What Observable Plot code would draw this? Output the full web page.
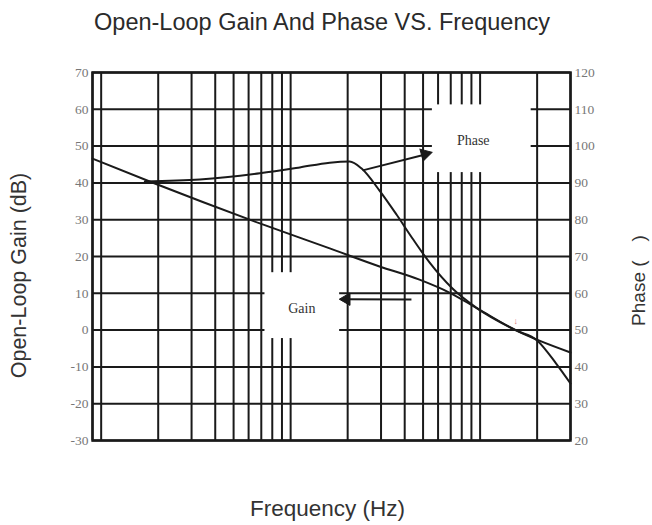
<!DOCTYPE html>
<html>
<head>
<meta charset="utf-8">
<script src="https://cdn.jsdelivr.net/npm/d3@7"></script>
<script src="https://cdn.jsdelivr.net/npm/@observablehq/plot@0.6"></script>
<style>
  html, body { margin: 0; padding: 0; background: #fff; }
  #title { width: 652px; height: 45px; line-height: 44px; text-align: center; padding-right: 8px; box-sizing: border-box;
           font-family: "Liberation Sans", Arial, sans-serif; font-size: 23.5px; color: #2a2a2a; white-space: nowrap; }
</style>
</head>
<body>
<div id="title">Open-Loop Gain And Phase VS. Frequency</div>
<div id="chart"></div>
<script>
// ---- data ----
const gainFreq = [45, 93, 344, 804, 1473, 2393, 3440, 4830, 7750, 15000];
const gainDb   = [46.6, 40.1, 29.0, 22.2, 17.3, 13.7, 10.2, 5.9, -0.1, -6.1];

const phaseFreq = [85, 166, 344, 559, 804, 1024, 1185, 1473, 1810, 2199, 2703, 3574, 4830, 7750, 10000, 12600, 15000];
const phaseDeg  = [90.4, 90.9, 92.6, 94.2, 95.5, 95.8, 93.9, 87.9, 81.4, 74.9, 68.4, 61.3, 55.9, 49.9, 47.2, 40.9, 35.5];

const gainTicks  = [-30, -20, -10, 0, 10, 20, 30, 40, 50, 60, 70];
const phaseTicks = [20, 30, 40, 50, 60, 70, 80, 90, 100, 110, 120];
const phaseOffset = 50; // phase axis = gain axis + 50

const gridDecades = [10, 100, 1000, 10000];
const gridMultiples = [1, 1.5, 2, 2.5, 3, 3.5, 4, 4.5, 5];
const freqDomain = [45, 15000];

// label boxes (white areas that break the grid), in Hz / dB
const boxes = [
  {f1: 2800, f2: 9300, d1: 42.8, d2: 61.2, label: "Phase", lf: 4600, ld: 51.5},
  {f1: 366,  f2: 907,  d1: -2.3, d2: 15.6, label: "Gain",  lf: 573,  ld: 5.9}
];
// arrows: shaft start/end and head centre
const arrows = [
  {f1: 1200, d1: 43.4, f2: 2600, d2: 47.8, hf: 2560, hd: 47.8, rot: 75},
  {f1: 2170, d1: 8.3,  f2: 960,  d2: 8.4,  hf: 985,  hd: 8.4,  rot: -90}
];
const redMark = [{f: 7700, d: 2.4}];

// ---- derived tables ----
const gain = gainFreq.map((f, i) => ({f, v: gainDb[i]}));
const phase = phaseFreq.map((f, i) => ({f, v: phaseDeg[i]}));
const gridFreqs = gridDecades.flatMap(d => gridMultiples.map(m => d * m))
  .filter(f => f >= freqDomain[0] - 1e-9 && f <= freqDomain[1] + 1e-9);

const serif = "'Liberation Serif', 'Times New Roman', serif";
const sans = "'Liberation Sans', Arial, sans-serif";
const ink = "#1a1a1a";

const chart = Plot.plot({
  width: 652,
  height: 480,
  marginTop: 27,
  marginBottom: 85,
  marginLeft: 92,
  marginRight: 82,
  x: {type: "log", domain: freqDomain, axis: null},
  y: {domain: [-30, 70], axis: null},
  style: {background: "white", fontFamily: serif},
  marks: [
    Plot.ruleX(gridFreqs, {x: d => d, stroke: ink, strokeWidth: 2}),
    Plot.ruleY(gainTicks, {y: d => d, stroke: ink, strokeWidth: 2}),
    Plot.frame({stroke: ink, strokeWidth: 2.5}),
    Plot.rect(boxes, {x1: "f1", x2: "f2", y1: "d1", y2: "d2", fill: "white"}),
    Plot.text(boxes, {x: "lf", y: "ld", text: "label", fontFamily: serif, fontSize: 14, fill: "#333"}),
    Plot.line(gain, {x: "f", y: "v", stroke: ink, strokeWidth: 2, curve: "monotone-x"}),
    Plot.line(phase, {x: "f", y: d => d.v - phaseOffset, stroke: ink, strokeWidth: 2, curve: "monotone-x"}),
    Plot.link(arrows, {x1: "f1", y1: "d1", x2: "f2", y2: "d2", stroke: ink, strokeWidth: 2}),
    Plot.dot(arrows, {x: "hf", y: "hd", symbol: "triangle", r: 4.6, fill: ink, stroke: ink, strokeWidth: 1, rotate: "rot"}),
    Plot.text(redMark, {x: "f", y: "d", text: () => "↓", fill: "#d77", fontSize: 9, fontFamily: sans}),
    // tick labels
    Plot.text(gainTicks, {y: d => d, text: d => String(d), frameAnchor: "left", dx: -4, textAnchor: "end",
      fontFamily: serif, fontSize: 13.5, fill: "#777"}),
    Plot.text(phaseTicks, {y: d => d - phaseOffset, text: d => String(d), frameAnchor: "right", dx: 4, textAnchor: "start",
      fontFamily: serif, fontSize: 13.5, fill: "#777"}),
    // axis titles
    Plot.text(["Open-Loop Gain (dB)"], {text: d => d, frameAnchor: "left", textAnchor: "middle", dx: -73, dy: 19, rotate: -90,
      fontFamily: sans, fontSize: 21.5, fill: "#333"}),
    Plot.text(["Phase (\u2002\u2002)"], {text: d => d, frameAnchor: "right", textAnchor: "middle", dx: 68, dy: 24, rotate: -90,
      fontFamily: sans, fontSize: 19, fill: "#333"}),
    Plot.text(["Frequency (Hz)"], {text: d => d, frameAnchor: "bottom", textAnchor: "middle", dx: -4, dy: 75,
      fontFamily: sans, fontSize: 22.5, fill: "#333"})
  ]
});
document.getElementById("chart").appendChild(chart);
</script>
</body>
</html>
